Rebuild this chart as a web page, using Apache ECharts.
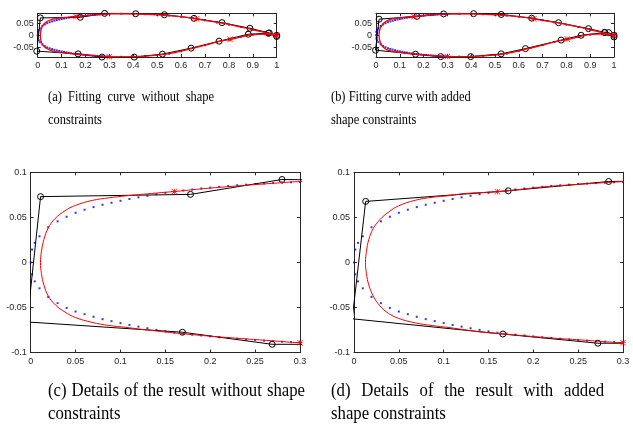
<!DOCTYPE html>
<html>
<head>
<meta charset="utf-8">
<script src="https://cdn.jsdelivr.net/npm/echarts@6/dist/echarts.min.js"></script>
<style>
  html, body { margin: 0; padding: 0; background: #fff; }
  #chart { width: 633px; height: 425px; }
</style>
</head>
<body>
<div id="chart"></div>
<script>
// tick values
const fullXTicks = [0, 0.1, 0.2, 0.3, 0.4, 0.5, 0.6, 0.7, 0.8, 0.9, 1];
const fullYTicks = [-0.05, 0, 0.05];
const detailXTicks = [0, 0.05, 0.1, 0.15, 0.2, 0.25, 0.3];
const detailYTicks = [-0.1, -0.05, 0, 0.05, 0.1];

// measured airfoil points (blue dots)
const blueUpper = [[0,0],[0.0015,0.0143],[0.0045,0.0217],[0.0098,0.029],[0.0195,0.039],[0.03,0.0456],[0.04,0.0507],
  [0.05,0.0551],[0.06,0.0585],[0.07,0.0614],[0.08,0.064],[0.09,0.0662],[0.1,0.0684],[0.11,0.0704],[0.12,0.0722],
  [0.13,0.074],[0.14,0.0757],[0.15,0.0772],[0.16,0.0787],[0.17,0.0798],[0.18,0.0809],[0.19,0.082],[0.2,0.083],
  [0.21,0.0839],[0.22,0.0848],[0.23,0.0856],[0.24,0.0863],[0.25,0.087],[0.26,0.0875],[0.27,0.088],[0.28,0.0885],
  [0.29,0.0889],[0.3,0.0893],[0.35,0.0903],[0.4,0.0897],[0.45,0.0884],[0.5,0.0862],[0.55,0.0828],[0.6,0.0778],
  [0.65,0.0712],[0.7,0.0628],[0.75,0.0538],[0.8,0.0445],[0.85,0.0348],[0.9,0.0238],[0.95,0.0122],[1,0.0005]];
const blueLower = [[0.0015,-0.0132],[0.0045,-0.021],[0.0098,-0.0287],[0.0195,-0.0382],[0.03,-0.0452],[0.04,-0.0504],
  [0.05,-0.0544],[0.06,-0.0574],[0.07,-0.0603],[0.08,-0.0629],[0.09,-0.0651],[0.1,-0.0673],[0.11,-0.0693],[0.12,-0.0712],
  [0.13,-0.073],[0.14,-0.0748],[0.15,-0.0764],[0.16,-0.0779],[0.17,-0.079],[0.18,-0.0801],[0.19,-0.081],[0.2,-0.082],
  [0.21,-0.083],[0.22,-0.0838],[0.23,-0.0846],[0.24,-0.0854],[0.25,-0.086],[0.26,-0.0867],[0.27,-0.0873],[0.28,-0.0879],
  [0.29,-0.0884],[0.3,-0.0889],[0.35,-0.0895],[0.4,-0.0885],[0.45,-0.0862],[0.5,-0.0828],[0.55,-0.0768],[0.6,-0.0668],
  [0.65,-0.0538],[0.7,-0.041],[0.75,-0.0278],[0.8,-0.0172],[0.85,-0.0065],[0.9,0.0025],[0.95,0.005],[1,0]];

// fitted curves (red), leading edge -> trailing edge
const redUpperA = [[0.0109,0],[0.012,0.0125],[0.0147,0.0254],[0.0195,0.0382],[0.027,0.0485],[0.0383,0.0574],
  [0.0496,0.0632],[0.0684,0.0688],[0.0872,0.0717],[0.106,0.0739],[0.12,0.0752],[0.14,0.077],[0.16,0.0787],
  [0.2,0.0825],[0.24,0.0856],[0.27,0.0878],[0.3,0.0897]];
const redLowerA = [[0.0109,0],[0.012,-0.0125],[0.0147,-0.025],[0.0195,-0.0371],[0.0278,-0.0474],[0.0383,-0.0551],
  [0.0496,-0.061],[0.0684,-0.0665],[0.0872,-0.0699],[0.106,-0.072],[0.12,-0.0738],[0.14,-0.076],[0.16,-0.0782],
  [0.2,-0.0818],[0.24,-0.0848],[0.27,-0.087],[0.3,-0.089]];
const redUpperB = [[0.0128,0],[0.0139,0.0125],[0.0165,0.0254],[0.0214,0.0376],[0.029,0.0476],[0.0383,0.0557],
  [0.0496,0.0627],[0.0684,0.069],[0.0872,0.0723],[0.106,0.0741],[0.124,0.0765],[0.16,0.0785],[0.18,0.0805],
  [0.2165,0.0843],[0.2536,0.0868],[0.284,0.0888],[0.3,0.0896]];
const redLowerB = [[0.0128,0],[0.0139,-0.0125],[0.0165,-0.025],[0.0214,-0.0372],[0.029,-0.0483],[0.0383,-0.0564],
  [0.0496,-0.062],[0.0684,-0.0671],[0.0872,-0.07],[0.106,-0.0722],[0.124,-0.0748],[0.142,-0.0772],[0.166,-0.0793],
  [0.2165,-0.0835],[0.2536,-0.086],[0.3,-0.089]];
const redUpperTail = [[0.35,0.0905],[0.4,0.0898],[0.45,0.0884],[0.5,0.0863],[0.55,0.083],[0.6,0.078],[0.65,0.0712],
  [0.7,0.0627],[0.77,0.051],[0.84,0.037],[0.89,0.0258],[0.94,0.0142],[0.97,0.0072],[1,0.0005]];
const redLowerTail = [[0.35,-0.0897],[0.4,-0.0888],[0.45,-0.0865],[0.52,-0.081],[0.574,-0.0718],[0.644,-0.0551],
  [0.7,-0.041],[0.763,-0.0244],[0.812,-0.016],[0.85,-0.0065],[0.881,0.0005],[0.92,0.0045],[0.95,0.0052],[0.98,0.003],[1,0]];

// control polygons (black), trailing edge upper -> leading edge -> trailing edge lower
const ctrlA = [[1,0],[0.969,0.0102],[0.888,0.0296],[0.771,0.0532],[0.654,0.0712],[0.53,0.0865],[0.41,0.0906],
  [0.28,0.092],[0.178,0.0755],[0.011,0.073],[-0.004,-0.066],[0.169,-0.0774],[0.269,-0.0908],[0.404,-0.0909],
  [0.522,-0.0784],[0.642,-0.0535],[0.759,-0.0244],[0.881,0.0047],[0.965,0.0089],[1,-0.005]];
const ctrlB = [[1,0],[0.978,0.011],[0.96,0.0122],[0.893,0.028],[0.767,0.053],[0.654,0.072],[0.526,0.0875],[0.41,0.091],
  [0.284,0.0898],[0.172,0.0795],[0.013,0.0677],[-0.002,-0.0625],[0.166,-0.0794],[0.272,-0.0896],[0.398,-0.0896],
  [0.526,-0.078],[0.628,-0.056],[0.778,-0.0203],[0.862,0],[0.962,0.0115],[1,-0.007]];

// red star markers
const starsA = [[0.16,0.0787],[0.665,0.0695],[0.3,-0.089],[0.805,-0.016],[1,0]];
const starsB = [[0.16,0.0785],[0.663,0.069],[0.3,-0.089],[0.803,-0.0155],[1,0]];

// captions
const captionA = ['(a) Fitting curve without shape', 'constraints'];
const captionB = ['(b) Fitting curve with added', 'shape constraints'];
const captionC = ['(c) Details of the result without shape', 'constraints'];
const captionD = ['(d) Details of the result with added', 'shape constraints'];

// closed outline: TE upper -> LE -> TE lower
function outline(upper, lower) {
  return upper.slice().reverse().concat(lower.slice(1));
}
const redA = outline(redUpperA.concat(redUpperTail), redLowerA.concat(redLowerTail));
const redB = outline(redUpperB.concat(redUpperTail), redLowerB.concat(redLowerTail));
const blueAll = blueUpper.concat(blueLower);

const AXIS_COLOR = '#262626';
const LABEL_FONT = '"Liberation Sans", Arial, sans-serif';
const STAR = 'path://M-0.14,-1L0.14,-1L0.14,1L-0.14,1Z M-1,-0.14L1,-0.14L1,0.14L-1,0.14Z M-0.9,-1.1L1.1,0.9L0.9,1.1L-1.1,-0.9Z M0.9,-1.1L1.1,-0.9L-0.9,1.1L-1.1,0.9Z';

const panels = [
  { rect: [37.7, 13.3, 239, 43.7], xr: [0, 1], yr: [-0.0905, 0.0923], xt: fullXTicks, yt: fullYTicks, ctrl: ctrlA, red: redA, stars: starsA, clip: false, redW: 1.3 },
  { rect: [376, 13.3, 238, 43.7], xr: [0, 1], yr: [-0.0912, 0.0924], xt: fullXTicks, yt: fullYTicks, ctrl: ctrlB, red: redB, stars: starsB, clip: false, redW: 1.3 },
  { rect: [30.7, 172.3, 269.3, 180.3], xr: [0, 0.3], yr: [-0.1, 0.1], xt: detailXTicks, yt: detailYTicks, ctrl: ctrlA, red: redA, stars: starsA, clip: true, redW: 1 },
  { rect: [354, 172.3, 269, 180.3], xr: [0, 0.3], yr: [-0.1, 0.1], xt: detailXTicks, yt: detailYTicks, ctrl: ctrlB, red: redB, stars: starsB, clip: true, redW: 1 }
];

const fmt = v => String(+v.toFixed(3));

function axis(gi, range, ticks, position, showLabel) {
  return {
    type: 'value', gridIndex: gi, position: position, min: range[0], max: range[1],
    axisLine: { show: true, onZero: false, lineStyle: { color: AXIS_COLOR, width: 1 } },
    axisTick: { show: true, inside: true, length: 3, customValues: ticks, lineStyle: { color: AXIS_COLOR, width: 1 } },
    axisLabel: { show: showLabel, customValues: ticks, margin: 4, fontSize: 9, color: AXIS_COLOR, fontFamily: LABEL_FONT, formatter: fmt },
    splitLine: { show: false }
  };
}

const grid = [], xAxis = [], yAxis = [], series = [];
panels.forEach((p, i) => {
  grid.push({ left: p.rect[0], top: p.rect[1], width: p.rect[2], height: p.rect[3], containLabel: false });
  xAxis.push(axis(i, p.xr, p.xt, 'bottom', true));
  xAxis.push(axis(i, p.xr, p.xt, 'top', false));
  yAxis.push(axis(i, p.yr, p.yt, 'left', true));
  yAxis.push(axis(i, p.yr, p.yt, 'right', false));
  const ax = { xAxisIndex: 2 * i, yAxisIndex: 2 * i };
  series.push(Object.assign({
    type: 'scatter', data: blueAll, symbol: 'rect', symbolSize: 2, clip: true, z: 1,
    itemStyle: { color: '#0000ff' }, silent: true
  }, ax));
  series.push(Object.assign({
    type: 'line', data: p.ctrl, clip: p.clip, z: 2, symbol: 'circle', symbolSize: 6, showSymbol: true,
    lineStyle: { color: '#000', width: 1 },
    itemStyle: { color: 'rgba(0,0,0,0)', borderColor: '#000', borderWidth: 1 }, silent: true
  }, ax));
  series.push(Object.assign({
    type: 'line', data: p.red, clip: true, z: 3, smooth: 0.4, showSymbol: false, symbol: 'none',
    lineStyle: { color: '#ff0000', width: p.redW }, silent: true
  }, ax));
  series.push(Object.assign({
    type: 'scatter', data: p.stars, symbol: STAR, symbolSize: 6, clip: true, z: 4,
    itemStyle: { color: '#ff0000' }, silent: true
  }, ax));
});

// captions: justified first line, left aligned second line
const measureCtx = document.createElement('canvas').getContext('2d');
function captionLine(text, x0, x1, y, fs, sx, justify) {
  const family = '"Liberation Serif", "Times New Roman", serif';
  measureCtx.font = fs + 'px ' + family;
  const words = text.split(' ');
  const widths = words.map(w => measureCtx.measureText(w).width * sx);
  const total = widths.reduce((a, b) => a + b, 0);
  const space = measureCtx.measureText(' ').width * sx;
  let gap = space;
  if (justify && words.length > 1) gap = Math.max(space, (x1 - x0 - total) / (words.length - 1));
  let x = x0;
  return words.map((w, k) => {
    const el = {
      type: 'text', x: x, y: y, scaleX: sx, silent: true,
      style: { text: w, fontSize: fs, fontFamily: family, fill: '#000', verticalAlign: 'middle', align: 'left' }
    };
    x += widths[k] + gap;
    return el;
  });
}

const graphic = [].concat(
  captionLine(captionA[0], 48, 214, 97, 15, 0.83, true),
  captionLine(captionA[1], 48, 214, 120, 15, 0.83, false),
  captionLine(captionB[0], 331, 470, 97, 15, 0.83, true),
  captionLine(captionB[1], 331, 470, 120, 15, 0.83, false),
  captionLine(captionC[0], 48, 305, 391, 18, 0.93, true),
  captionLine(captionC[1], 48, 305, 414, 18, 0.93, false),
  captionLine(captionD[0], 331, 604, 391, 18, 0.93, true),
  captionLine(captionD[1], 331, 604, 414, 18, 0.93, false)
);

const myChart = echarts.init(document.getElementById('chart'));
myChart.setOption({
  animation: false,
  backgroundColor: '#fff',
  grid: grid,
  xAxis: xAxis,
  yAxis: yAxis,
  series: series,
  graphic: graphic
});
</script>
</body>
</html>
